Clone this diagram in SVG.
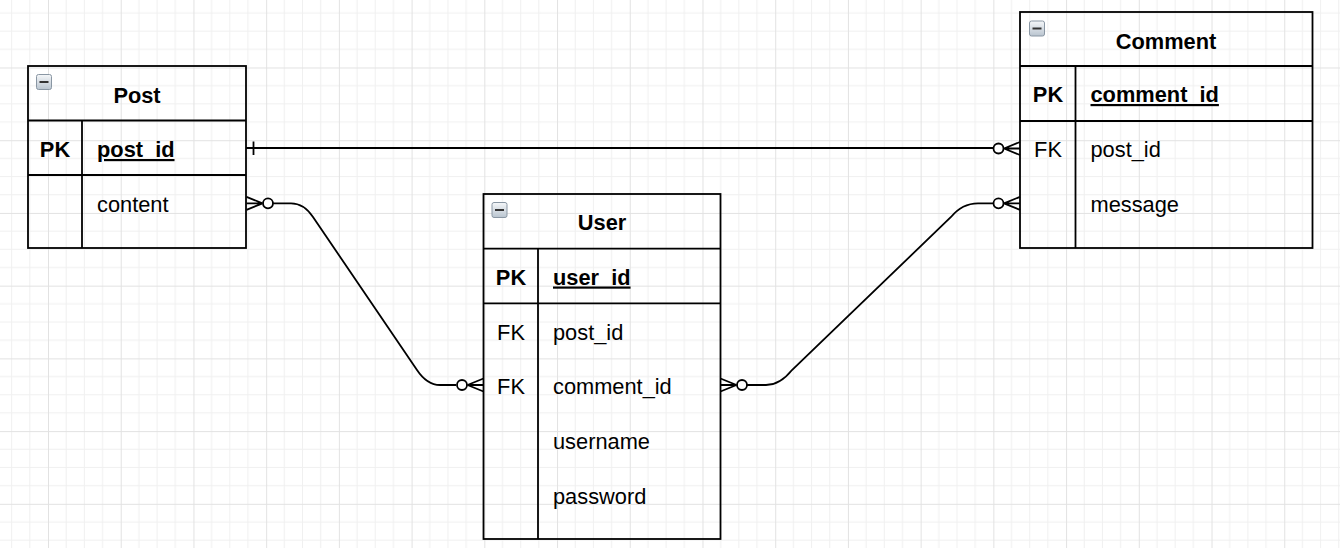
<svg xmlns="http://www.w3.org/2000/svg" width="1340" height="548" viewBox="0 0 1340 548">
<style>
.box{fill:none;stroke:#000;stroke-width:1.8}
.ln{fill:none;stroke:#000;stroke-width:1.8}
.t{font-family:"Liberation Sans",Arial,sans-serif;font-size:21.8px;fill:#000}
.b{font-weight:bold}
.c{text-anchor:middle}
.u{text-decoration:underline}
.edge{fill:none;stroke:#000;stroke-width:1.8}
</style>
<defs>
<pattern id="grid" patternUnits="userSpaceOnUse" x="48" y="67.5" width="72.72" height="72.72">
<path d="M18.18,0V72.72M36.36,0V72.72M54.54,0V72.72M0,18.18H72.72M0,36.36H72.72M0,54.54H72.72" stroke="#f0f0f0" stroke-width="1" fill="none"/>
<path d="M0.5,0V72.72M0,0.5H72.72" stroke="#e2e2e2" stroke-width="1" fill="none"/>
</pattern>
<linearGradient id="ig" x1="0" y1="0" x2="0" y2="1">
<stop offset="0" stop-color="#f5f7f9"/>
<stop offset="1" stop-color="#b9c4cf"/>
</linearGradient>
<g id="icon">
<rect x="0.5" y="0.5" width="15" height="15" rx="2" fill="url(#ig)" stroke="#8996a3" stroke-width="1"/>
<path d="M3.5,8H12.5" stroke="#333" stroke-width="2"/>
</g>
<g id="zm">
<path d="M0,-6.5L16,0M0,6.5L16,0M0,0H16" class="edge"/>
<circle cx="21.5" cy="0" r="5" fill="#fff" stroke="#000" stroke-width="1.8"/>
</g>
</defs>
<rect width="1340" height="548" fill="#fff"/>
<rect width="1340" height="548" fill="url(#grid)"/>

<g id="connectors">
<path class="edge" d="M246,148H994.5"/>
<path class="edge" d="M253.5,141.5V155"/>
<use href="#zm" transform="translate(1020,148.5) scale(-1,1)"/>

<path class="edge" d="M273,203.3L291,203.3Q304,203.3 313,217L417,370Q427,385 440,385L456,385"/>
<use href="#zm" transform="translate(246.5,203.3)"/>
<use href="#zm" transform="translate(483.5,385) scale(-1,1)"/>

<path class="edge" d="M747,385L766,385Q780,385 792,370L951,217Q962,203.3 978,203.3L994.5,203.3"/>
<use href="#zm" transform="translate(720.5,385)"/>
<use href="#zm" transform="translate(1020,203.3) scale(-1,1)"/>
</g>

<g id="post">
<rect class="box" x="28" y="66" width="218" height="182"/>
<path class="ln" d="M28,120.5H246M28,175H246M82,120.5V248"/>
<use href="#icon" x="36" y="74"/>
<text class="t b c" x="137" y="103">Post</text>
<text class="t b c" x="55" y="157">PK</text>
<text class="t b u" x="97" y="157">post_id</text>
<text class="t" x="97" y="212">content</text>
</g>

<g id="user">
<rect class="box" x="483.5" y="194" width="237" height="345"/>
<path class="ln" d="M483.5,248.7H720.5M483.5,303.3H720.5M538,248.7V539"/>
<use href="#icon" x="491.5" y="202"/>
<text class="t b c" x="602" y="230">User</text>
<text class="t b c" x="511" y="284.5">PK</text>
<text class="t b u" x="553" y="284.5">user_id</text>
<text class="t c" x="511" y="339.5">FK</text>
<text class="t" x="553" y="339.5">post_id</text>
<text class="t c" x="511" y="394">FK</text>
<text class="t" x="553" y="394">comment_id</text>
<text class="t" x="553" y="449">username</text>
<text class="t" x="553" y="503.5">password</text>
</g>

<g id="comment">
<rect class="box" x="1020" y="12" width="292.5" height="236"/>
<path class="ln" d="M1020,66H1312.5M1020,121H1312.5M1075.5,66V248"/>
<use href="#icon" x="1029" y="20.5"/>
<text class="t b c" x="1166" y="48.5">Comment</text>
<text class="t b c" x="1048" y="102">PK</text>
<text class="t b u" x="1090.5" y="102">comment_id</text>
<text class="t c" x="1048" y="157">FK</text>
<text class="t" x="1090.5" y="157">post_id</text>
<text class="t" x="1090.5" y="212">message</text>
</g>
</svg>
